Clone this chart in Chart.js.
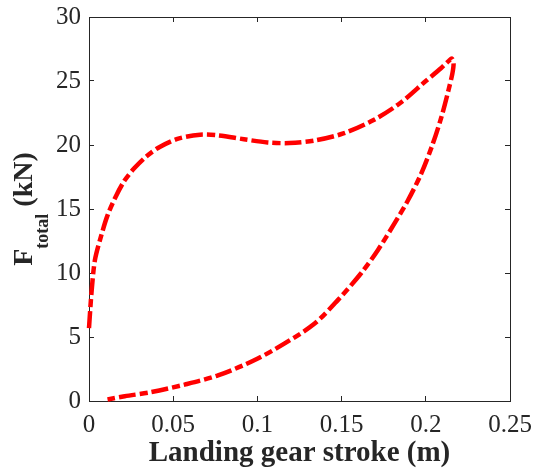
<!DOCTYPE html>
<html>
<head>
<meta charset="utf-8">
<script src="https://cdn.jsdelivr.net/npm/chart.js@4/dist/chart.umd.min.js"></script>
<style>
  body { margin: 0; background: #fff; }
  canvas { display: block; }
</style>
</head>
<body>
<canvas id="forceChart" width="533" height="475"></canvas>
<script>
// loading branch (stroke in m, force in kN)
const strokeLoad = [0, 0.0015, 0.0035, 0.007, 0.011, 0.016, 0.021, 0.027, 0.034, 0.042, 0.053, 0.066, 0.077, 0.092, 0.106, 0.119, 0.134, 0.151, 0.169, 0.185, 0.200, 0.209, 0.2135, 0.2155];
const forceLoad  = [5.7, 8.5, 11.0, 12.8, 14.5, 16.0, 17.2, 18.2, 19.1, 19.85, 20.5, 20.8, 20.75, 20.45, 20.2, 20.15, 20.35, 20.9, 21.95, 23.3, 25.0, 26.0, 26.55, 26.75];
// unloading branch
const strokeUnload = [0.2165, 0.2158, 0.2135, 0.2093, 0.2043, 0.1974, 0.1895, 0.1815, 0.1716, 0.1617, 0.1479, 0.134, 0.1162, 0.0984, 0.0766, 0.0568, 0.037, 0.0212, 0.011];
const forceUnload  = [26.4, 25.6, 24.3, 22.2, 20.15, 17.8, 15.7, 13.9, 11.8, 10.0, 7.9, 6.05, 4.5, 3.2, 2.0, 1.28, 0.7, 0.37, 0.12];

const xTicks = [0, 0.05, 0.1, 0.15, 0.2, 0.25];
const yTicks = [0, 5, 10, 15, 20, 25, 30];

const axisColor = '#262626';
const serif = "'Liberation Serif', 'Times New Roman', serif";

const points = [];
strokeLoad.forEach((s, i) => points.push({ x: s, y: forceLoad[i] }));
strokeUnload.forEach((s, i) => points.push({ x: s, y: forceUnload[i] }));

function fixedTicks(list) {
  return (scale) => { scale.ticks = list.map(v => ({ value: v })); };
}

function boxAxis(position, ticks, showLabels, size) {
  const horiz = position === 'top' || position === 'bottom';
  return {
    type: 'linear',
    position: position,
    min: ticks[0],
    max: ticks[ticks.length - 1],
    afterBuildTicks: fixedTicks(ticks),
    afterFit: (scale) => {
      if (horiz) scale.height = size; else scale.width = size;
      // labels may hang past the plot box, don't let them shrink it
      scale.paddingTop = scale.paddingBottom = scale.paddingLeft = scale.paddingRight = 0;
    },
    border: { display: true, color: axisColor, width: 1 },
    grid: { drawOnChartArea: false, drawTicks: true, tickLength: -5, color: axisColor, lineWidth: 1 },
    ticks: {
      display: showLabels,
      color: axisColor,
      font: { family: serif, size: 25 },
      padding: horiz ? 14 : 13,
      maxRotation: 0,
      autoSkip: false,
      callback: (v) => String(+Number(v).toFixed(2))
    }
  };
}

// y title with subscript, drawn beside the left axis
const yTitlePlugin = {
  id: 'yTitle',
  afterDraw(chart) {
    const { ctx, chartArea } = chart;
    const big = "bold 28px " + serif;
    const small = "bold 18px " + serif;
    ctx.save();
    ctx.font = big;
    const wF = ctx.measureText('F').width;
    const wRest = ctx.measureText(' (kN)').width;
    ctx.font = small;
    const wSub = ctx.measureText('total').width;
    const total = wF + wSub + wRest;
    ctx.translate(32, (chartArea.top + chartArea.bottom) / 2);
    ctx.rotate(-Math.PI / 2);
    ctx.fillStyle = axisColor;
    ctx.textBaseline = 'alphabetic';
    ctx.textAlign = 'left';
    let x = -total / 2;
    ctx.font = big;
    ctx.fillText('F', x, 0);
    x += wF;
    ctx.font = small;
    ctx.fillText('total', x, 16);
    x += wSub;
    ctx.font = big;
    ctx.fillText(' (kN)', x, 0);
    ctx.restore();
  }
};

const xAxis = boxAxis('bottom', xTicks, true, 74);
xAxis.title = {
  display: true,
  text: 'Landing gear stroke (m)',
  color: axisColor,
  font: { family: serif, size: 29, weight: 'bold' },
  padding: { top: 0, bottom: 4 }
};

new Chart(document.getElementById('forceChart'), {
  type: 'scatter',
  data: {
    datasets: [{
      data: points,
      showLine: true,
      borderColor: '#ff0000',
      borderWidth: 4.5,
      borderDash: [17, 4, 8, 4],
      borderCapStyle: 'butt',
      pointRadius: 0,
      tension: 0.3,
      fill: false,
      clip: 6
    }]
  },
  options: {
    responsive: false,
    animation: false,
    layout: { padding: 0 },
    plugins: { legend: { display: false }, tooltip: { enabled: false } },
    scales: {
      x: xAxis,
      x2: boxAxis('top', xTicks, false, 17),
      y: boxAxis('left', yTicks, true, 89),
      y2: boxAxis('right', yTicks, false, 23)
    }
  },
  plugins: [yTitlePlugin]
});
</script>
</body>
</html>
